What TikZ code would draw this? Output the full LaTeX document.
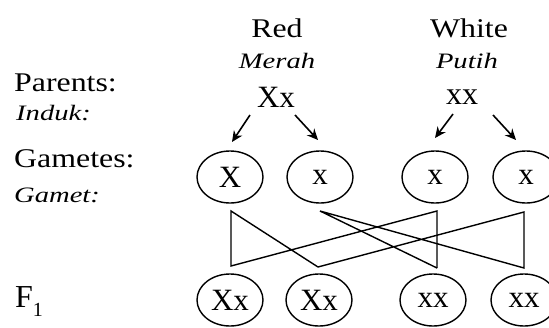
\documentclass[tikz,border=0pt]{standalone}
\usepackage{fontspec}
\setmainfont{Liberation Serif}
\usepackage{graphicx}
\usetikzlibrary{shapes.geometric,arrows.meta}
\newcommand\rmlab[1]{\scalebox{1.18}[1]{\fontsize{27}{29}\selectfont #1}}
\newcommand\itlab[1]{\scalebox{1.3}[1]{\fontsize{22}{24}\selectfont\itshape #1}}
\begin{document}
\begin{tikzpicture}[x=1pt,y=-1pt,
  lbl/.style={anchor=base west,inner sep=0pt},
  hdr/.style={anchor=base,inner sep=0pt},
  gam/.style={ellipse,draw,line width=1.4pt,minimum width=66pt,minimum height=52pt,inner sep=0pt,font=\fontsize{31}{33}\selectfont},
  link/.style={line width=1.4pt},
  arr/.style={line width=1.6pt,-{Stealth[length=11pt,width=10pt]}}]
\useasboundingbox (0,0) rectangle (549,327);

% left labels
\node[lbl] (par) at (14,91) {\rmlab{Parents:}};
\node[lbl] (ind) at (16,120) {\itlab{Induk:}};
\node[lbl] (gmt) at (14,167) {\rmlab{Gametes:}};
\node[lbl] (gmi) at (14,202) {\itlab{Gamet:}};
\node[lbl] (fone) at (15,307) {\fontsize{32}{34}\selectfont F\raisebox{-9pt}{\fontsize{20}{22}\selectfont 1}};

% headers
\node[hdr] (red) at (277,37) {\rmlab{Red}};
\node[hdr] (merah) at (277,68) {\itlab{Merah}};
\node[hdr] (white) at (469,37) {\rmlab{White}};
\node[hdr] (putih) at (467,68) {\itlab{Putih}};
\node[hdr] (p1) at (276,107) {\fontsize{31}{33}\selectfont Xx};
\node[hdr] (p2) at (462,104) {\fontsize{32}{34}\selectfont xx};

% arrows
\coordinate (a1s) at (250,115); \coordinate (a1e) at (232,142);
\coordinate (a2s) at (295,115); \coordinate (a2e) at (318,140);
\coordinate (a3s) at (453,114); \coordinate (a3e) at (435,138);
\coordinate (a4s) at (493,115); \coordinate (a4e) at (516,140);
\draw[arr] (a1s) -- (a1e);
\draw[arr] (a2s) -- (a2e);
\draw[arr] (a3s) -- (a3e);
\draw[arr] (a4s) -- (a4e);

% gametes
\node[gam] (g1) at (230,177) {X};
\node[gam] (g2) at (320,177) {x};
\node[gam] (g3) at (435,177) {x};
\node[gam] (g4) at (526,177) {x};

% F1
\node[gam] (f1) at (230,300) {Xx};
\node[gam] (f2) at (319,300) {Xx};
\node[gam] (f3) at (433,300) {xx};
\node[gam] (f4) at (524,300) {xx};

% crossing lines
\coordinate (t1) at (231,211);
\coordinate (t2) at (320,211);
\coordinate (t3) at (437,211);
\coordinate (t4) at (524,212);
\coordinate (b1) at (231,266);
\coordinate (b2) at (318,267);
\coordinate (b3) at (437,268);
\coordinate (b4) at (524,268);
\draw[link] (b2) -- (t1) -- (b1) -- (t3) -- (b3);
\draw[link] (b3) -- (t2) -- (b4) -- (t4) -- (b2);
\end{tikzpicture}
\end{document}
